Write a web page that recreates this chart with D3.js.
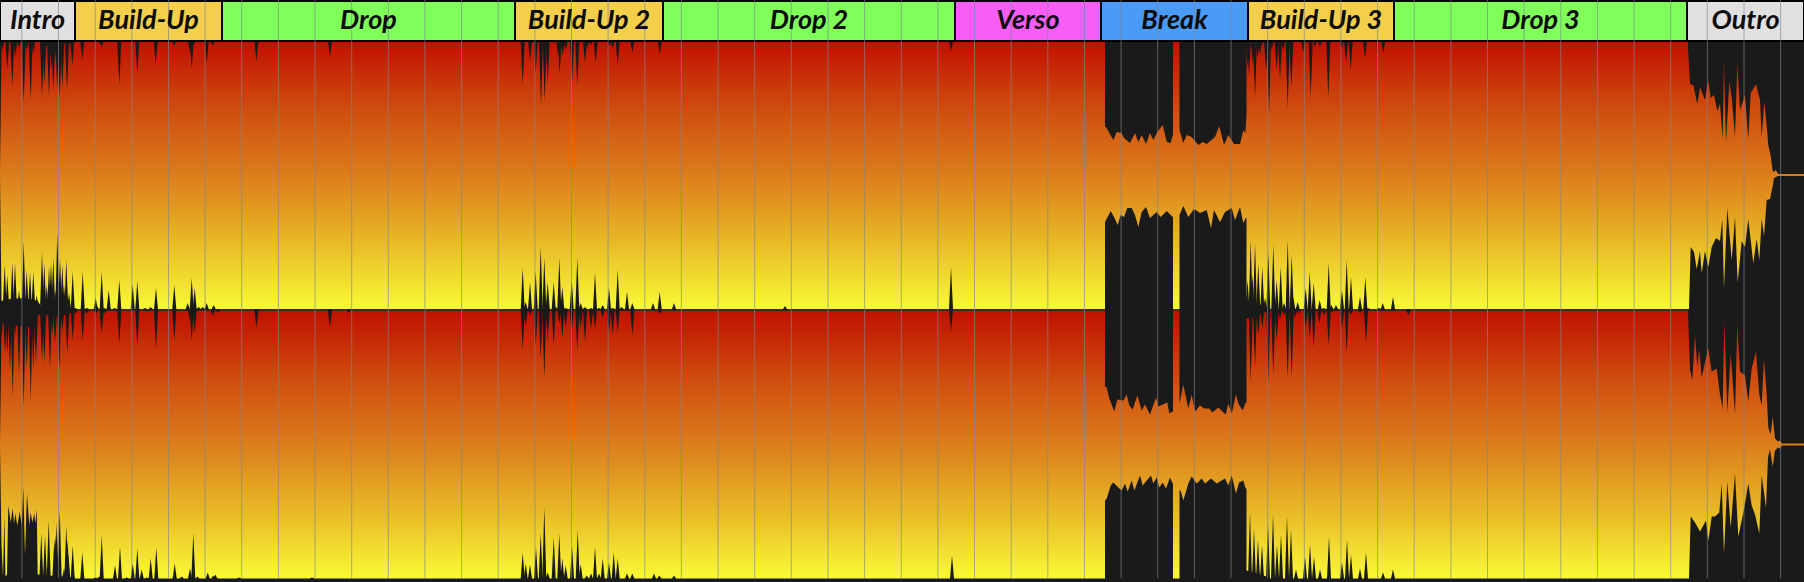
<!DOCTYPE html>
<meta charset="utf-8">
<style>

html, body {
  margin: 0;
  background: #1a1a1a;
}

svg {
  display: block;
}

.section-label {
  font-family: Lato, sans-serif;
  font-size: 27px;
  font-style: italic;
  font-weight: 700;
  fill: #0d0d0d;
  text-anchor: middle;
}

</style>
<body>
<script src="https://d3js.org/d3.v7.min.js"></script>
<script>

// x values are waveform columns, peak levels run from 0 (silence) to 134 (full scale)
var sectionNames = ["Intro", "Build-Up", "Drop", "Build-Up 2", "Drop 2", "Verso", "Break", "Build-Up 3", "Drop 3", "Outro"];
var sectionKinds = ["edge", "build", "drop", "build", "drop", "verse", "break", "build", "drop", "edge"];
var sectionEdges = [0, 75, 222, 515, 663, 955, 1101, 1248, 1394, 1687, 1804];
var barColumns = [21.4, 58, 94.7, 131.3, 168, 204.6, 241.2, 277.9, 314.5, 351.2, 387.8, 424.4, 461.1, 497.7, 534.4, 571, 607.6, 644.3, 680.9, 717.6, 754.2, 790.8, 827.5, 864.1, 900.8, 937.4, 974, 1010.7, 1047.3, 1084, 1120.6, 1157.2, 1193.9, 1230.5, 1267.2, 1303.8, 1340.4, 1377.1, 1413.7, 1450.4, 1487, 1523.6, 1560.3, 1596.9, 1633.6, 1670.2, 1706.8, 1743.5, 1780.1];

var ch1TopSpikes = [[2.3,125],[7.3,106],[12.3,89],[15.3,119],[19,127],[23.7,72],[26.7,125],[30.7,75],[33.3,122],[42,77],[44.3,90],[46,128],[49,79],[51.7,105],[53.3,84],[55,117],[57.3,86],[59.7,77],[62.3,87],[64,130],[67,85],[69.3,130],[72.3,109],[75,133],[82.3,115],[86.7,133],[100,131],[101.7,128],[119.3,90],[137.3,102],[146.7,133],[155.7,110],[174.3,129],[190,122],[191.7,107],[193.7,130],[200,133],[206.7,112],[212.7,129],[256.4,114],[330,118],
  [522.7,90],[530,115],[535.7,102],[541,69],[544.7,74],[547.7,92],[553.7,132],[558.3,119],[559.7,102],[562.7,119],[565.7,125],[572,92],[577.3,89],[585,112],[587.3,127],[591,130],[595.7,112],[609.3,129],[612.7,127],[617.7,109],[621.7,133],[626.7,133],[632.3,123],[659.7,121],[951,124],
  [1247.7,108],[1249,100],[1251.7,127],[1253,110],[1255,78],[1257.7,117],[1260,120],[1262,130],[1266,105],[1269,62],[1271.7,125],[1276.7,105],[1280,95],[1283.3,125],[1287.7,67],[1291.3,87],[1303.3,123],[1310.7,78],[1315,128],[1320,128],[1328.3,77],[1341.7,127],[1346,112],[1350.7,105],[1365,117],[1383.3,122],[1390,133]];
var ch1TopBody = [[0,1],[1.5,130],null,
  [1105,48],[1106,48],[1109.3,42],[1113.3,35],[1116.7,43],[1121.7,42],[1124,37],[1130,32],[1135,42],[1138.3,33],[1141.7,40],[1146,31],[1150,42],[1153.3,35],[1157.3,43],[1162.7,50],[1166.7,33],[1170.7,32],[1172.7,40],[1173,40],null,
  [1179.5,45],[1183.3,32],[1186.7,40],[1191.7,38],[1198.3,30],[1202.7,33],[1206.7,31],[1215,38],[1219.3,49],[1224,30],[1228.3,40],[1234,31],[1240,31],[1243.3,45],[1245.3,42],[1246.5,60],null,
  [1688,127],[1690,91],[1693.3,90],[1697.3,71],[1700,88],[1705,75],[1708.3,95],[1710.7,77],[1714,80],[1717.3,64],[1720,71],[1722.7,36],[1724,114],[1726,32],[1729.3,93],[1732,75],[1735,38],[1737.3,112],[1740,65],[1745,80],[1748.3,36],[1750.7,82],[1756,91],[1760,75],[1761.7,38],[1764.3,73],[1766.7,49],[1768.3,30],[1770.7,19],[1772.7,4],[1774,3],[1775.5,5],[1777,3],[1778.5,1],[1804,1]];

var ch1BottomSpikes = [[1.7,125],[4.7,90],[7.3,100],[12.3,88],[15,88],[19,115],[23.7,67],[26.7,95],[30,97],[33.3,97],[36.7,120],[39.3,128],[42,77],[44.3,88],[46.7,110],[49,92],[51,88],[53.3,83],[55.3,115],[57.3,58],[60,83],[62.3,90],[64,110],[66.3,85],[69,118],[72.7,97],[75.3,133],[82.7,97],[87,133],[95.7,123],[97,131],[101.7,97],[104.3,133],[108.7,115],[114.7,133],[119.3,105],[132.7,110],[137.3,106],[145,133],[150.7,132],[156,113],[174.3,110],[187.7,128],[191.7,103],[194.7,113],[198.7,132],[202.7,132],[206.7,128],[213.7,130],
  [522.7,93],[525.7,127],[530,107],[535.7,97],[540.7,72],[544.3,83],[547.7,107],[553.7,107],[555.7,132],[559.3,83],[562.3,112],[565.7,133],[571.7,105],[577.3,83],[580.7,128],[585,132],[591,133],[595,98],[599,133],[602.7,130],[609,113],[612.7,133],[617.7,95],[621.7,132],[627,117],[632.3,128],[653,128],[659.7,117],[674,128],[785,131],[951,92],
  [1247.5,105],[1250.7,65],[1252.5,100],[1255,68],[1258.3,88],[1262.3,92],[1265,123],[1268.3,78],[1273.3,70],[1276.7,105],[1280.7,92],[1284,128],[1287.7,65],[1291.7,80],[1293.3,122],[1297.7,127],[1305.7,113],[1309.7,97],[1313.7,108],[1319.7,125],[1323.7,133],[1328.7,88],[1331.3,130],[1336,130],[1342,115],[1346.7,85],[1351,102],[1360,122],[1365.3,102],[1368,133],[1379,133],[1382.7,128],[1393,122]];
var ch1BottomBody = [[0,1],[1.5,126],[10,124],[25,123],[38,126],[40,131],[60,130],[75,134],null,
  [1105,47],[1110.7,36],[1114,42],[1117.7,50],[1120.7,40],[1124,42],[1127.3,33],[1131.7,33],[1135,40],[1138.3,52],[1141.7,37],[1146,32],[1150,43],[1156.7,37],[1160.7,42],[1166.7,36],[1172.7,42],[1173,42],null,
  [1179.5,40],[1183.3,31],[1188.3,42],[1194,34],[1200,38],[1206.7,35],[1211,53],[1214,35],[1220,47],[1225,37],[1231.7,33],[1235,45],[1240,32],[1243.3,48],[1245.7,43],[1246.5,43],[1246.5,126],[1258,128],[1262,131],[1270,133],null,
  [1689,133],[1690.7,72],[1694,77],[1696.7,94],[1700,76],[1701.7,98],[1705,76],[1708.3,92],[1711.7,72],[1716,63],[1720,66],[1722.3,44],[1724,113],[1727.3,33],[1731.7,85],[1735,42],[1737.7,107],[1741.7,66],[1745,72],[1748.3,44],[1753.3,88],[1756.7,64],[1759.3,85],[1761.7,44],[1764,61],[1766.7,25],[1770,24],[1772.7,11],[1774,3],[1778,1],[1804,1]];

var ch2TopSpikes = [[1.7,107],[5,90],[7.3,90],[10,74],[12.7,47],[15,107],[19,71],[23.7,38],[26.7,77],[30.7,42],[33.3,74],[36,81],[39.3,131],[42,84],[44.3,81],[46.7,131],[50,76],[52.3,111],[55,101],[59.3,76],[62.3,114],[64.5,131],[67.3,91],[72.7,104],[75.3,131],[82.7,104],[86.7,131],[96,131],[101.7,111],[104.3,131],[119.3,101],[137.3,99],[156,96],[174.3,104],[190,124],[191.7,104],[194.7,111],[212.7,129],[218,132],[256.4,117],[330,117],[349,132],
  [522.7,94],[525.7,119],[530,129],[535.7,99],[540.7,87],[544.3,66],[547.7,104],[553.7,99],[559.3,121],[562.3,106],[565.7,117],[571.7,112],[577.3,94],[580.7,117],[585,102],[591,116],[595,116],[602.7,127],[609,112],[612.7,109],[617.7,112],[632.3,109],[659.7,131],[951,113],
  [1250.7,62],[1255,77],[1258.3,109],[1262.3,117],[1268.3,62],[1273.3,69],[1276.7,104],[1280,125],[1284,129],[1287.7,66],[1291.7,67],[1295,127],[1298.3,131],[1305.7,117],[1309.7,106],[1313.7,97],[1319.3,121],[1324,129],[1328.7,99],[1331.3,132],[1342,116],[1346.7,92],[1351,130],[1360,131],[1366,101],[1408.3,130]];
var ch2TopBody = [[0,1],[1.5,122],[15,119],[35,117],[38,130],[60,128],[75,133],null,
  [1105,58],[1106.7,57],[1109.3,46],[1114.3,33],[1117.3,45],[1123.3,44],[1126.7,50],[1129.3,39],[1132.7,35],[1137.3,49],[1141.7,34],[1145,40],[1150,30],[1156,47],[1158.3,38],[1167.3,42],[1169.3,31],[1172.7,33],[1173,33],null,
  [1179.5,41],[1183.3,60],[1188.3,36],[1191.7,50],[1195,33],[1200,39],[1204,36],[1209.3,36],[1212.3,32],[1218.3,37],[1225.7,30],[1228.3,41],[1231.7,31],[1236,50],[1238.3,41],[1242.7,34],[1245.7,42],[1246.5,42],[1246.5,126],[1256,128],[1264,132],[1270,133],null,
  [1688,133],[1690,75],[1692.3,64],[1695,110],[1697.3,78],[1699.3,95],[1701.7,67],[1708.3,97],[1711.7,73],[1716.7,76],[1720,50],[1722.7,36],[1724.3,125],[1727.3,32],[1730.7,91],[1735,30],[1737.3,121],[1740,73],[1745,69],[1748.3,43],[1751.7,76],[1756,93],[1759.3,50],[1761.7,39],[1764,86],[1766.7,50],[1768.3,17],[1770.7,10],[1772.7,28],[1775,6],[1778,3],[1780,4],[1782,1],[1804,1]];

var ch2BottomSpikes = [[41.3,89],[45,91],[48.7,76],[54.3,94],[55.5,90],[56.7,78],[59.7,66],[64,124],[66.3,81],[67.5,95],[68.3,109],[72.7,101],[82.3,108],[95.7,133],[99.3,132],[101.7,91],[115,121],[120,103],[126.7,133],[132.7,119],[137.3,104],[141.7,125],[146.7,133],[150.7,114],[156.3,103],[174.7,119],[181.7,132],[190,124],[193.3,89],[197.3,132],[207.7,128],[213.3,131],[215.3,130],[239,133],[312,133],
  [522.7,108],[525.7,119],[530,120],[536,103],[540.7,89],[544.3,63],[547.7,128],[553.7,93],[559.3,89],[562.3,114],[565.7,121],[572,101],[577.7,86],[580.7,120],[586.7,131],[591,129],[595,103],[599,129],[602.7,114],[609,118],[613.7,108],[617.7,114],[627,129],[632.3,129],[654,129],[659.3,131],[674,131],[952,111],
  [1250,68],[1254,85],[1258,95],[1262,100],[1268,80],[1273,70],[1277,100],[1281,90],[1287,72],[1291,85],[1296,125],[1305,112],[1310,100],[1314,112],[1320,125],[1329,92],[1342,118],[1347,95],[1351,110],[1360,124],[1366,108],[1383,128],[1393,125]];
var ch2BottomBody = [[0,1],[1.5,100],[3,132],[4.3,71],[5.5,132],[7,130],[8.3,61],[10.7,78],[12.7,64],[14,79],[15.3,69],[17.3,81],[19.7,67],[21.7,81],[23.3,43],[25,110],[27,49],[29.3,81],[30.7,68],[32.3,78],[34.3,69],[35.3,79],[36.7,65],[37.7,130],[75,133],null,
  [1105,56],[1106.7,54],[1110.7,41],[1113.3,38],[1118.3,43],[1121.7,46],[1125,39],[1127.7,47],[1131.7,36],[1134.3,46],[1140,31],[1142.7,41],[1146.7,36],[1151,31],[1153.3,39],[1156.7,33],[1159.3,43],[1162.7,38],[1166,44],[1170,33],[1172.7,39],[1173,39],null,
  [1179.5,46],[1180.7,46],[1183.3,56],[1188.3,39],[1191.7,32],[1196.7,39],[1201.7,34],[1205,39],[1211,34],[1216.7,39],[1225,34],[1228.3,41],[1231.7,31],[1236,49],[1239,38],[1243.3,36],[1245.7,44],[1246.5,44],[1246.5,126],[1260,130],[1270,133],null,
  [1689,133],[1690.7,72],[1695,78],[1700,87],[1706,76],[1708.3,96],[1711.7,72],[1715,72],[1719.3,68],[1721.7,39],[1724,109],[1727.3,37],[1730.7,83],[1735,29],[1738.3,92],[1744,65],[1748.3,39],[1751.7,61],[1755,70],[1759.3,89],[1761.7,31],[1766,63],[1768,13],[1770,5],[1772.7,22],[1775,6],[1778,3],[1780,4],[1782,1],[1804,1]];

var width = 1804,
    height = 582,
    headerHeight = 41,
    fullScale = 134,
    spikeWidth = 2,
    black = "#1a1a1a";

var sectionColor = d3.scaleOrdinal()
    .domain(["edge", "build", "drop", "verse", "break"])
    .range(["#e0e0e0", "#f4cf4c", "#80ff5a", "#f55df5", "#4a9bf5"]);

var gradientColor = d3.scaleLinear()
    .domain([0, .25, .5, .75, 1])
    .range(["#c01000", "#cf4c0f", "#dc7d1b", "#e8b927", "#f9f935"]);

var channels = [
  {id: "ch1", top: 41, middle: 175, bottom: 309, topSpikes: ch1TopSpikes, topBody: ch1TopBody, bottomSpikes: ch1BottomSpikes, bottomBody: ch1BottomBody},
  {id: "ch2", top: 310.5, middle: 444.5, bottom: 578.5, topSpikes: ch2TopSpikes, topBody: ch2TopBody, bottomSpikes: ch2BottomSpikes, bottomBody: ch2BottomBody}
];

var x = d3.scaleLinear()
    .domain([0, width])
    .range([0, width]);

var svg = d3.select("body").append("svg")
    .attr("width", width)
    .attr("height", height);

svg.append("rect")
    .attr("width", width)
    .attr("height", height)
    .attr("fill", black);

var defs = svg.append("defs");

channels.forEach(function(channel) {
  var gradient = defs.append("linearGradient")
      .attr("id", channel.id + "-fill")
      .attr("gradientUnits", "userSpaceOnUse")
      .attr("x1", 0).attr("x2", 0)
      .attr("y1", channel.top).attr("y2", channel.bottom);

  gradient.selectAll("stop")
      .data(gradientColor.domain())
    .enter().append("stop")
      .attr("offset", function(d) { return d; })
      .attr("stop-color", gradientColor);

  svg.append("rect")
      .attr("x", x(0))
      .attr("y", channel.top)
      .attr("width", x(width))
      .attr("height", channel.bottom - channel.top)
      .attr("fill", "url(#" + channel.id + "-fill)");
});

// the dark seam between the two channels, under the black of the waveform
svg.append("line")
    .attr("x1", x(0))
    .attr("x2", x(width))
    .attr("y1", 310)
    .attr("y2", 310)
    .attr("stroke", "#3c2c10")
    .attr("stroke-width", 2);

channels.forEach(function(channel) {
  drawEdge(channel.top, channel.middle, channel.topSpikes, channel.topBody);
  drawEdge(channel.bottom, channel.middle, channel.bottomSpikes, channel.bottomBody);
});

// the black part of a channel edge is everything beyond the peak level
function drawEdge(edge, middle, spikes, body) {
  var y = d3.scaleLinear()
      .domain([0, fullScale])
      .range([middle, edge]);

  var area = d3.area()
      .defined(function(d) { return d; })
      .x(function(d) { return x(d[0]); })
      .y0(edge > middle ? edge + 1.5 : edge - 1.5)
      .y1(function(d) { return y(d[1]); });

  svg.append("path")
      .attr("d", area(body))
      .attr("fill", black);

  svg.append("g").selectAll("path")
      .data(spikes)
    .enter().append("path")
      .attr("fill", black)
      .attr("d", function(d) {
        return area([[d[0] - spikeWidth, fullScale], d, [d[0] + spikeWidth, fullScale]]);
      });
}

var sections = svg.append("g").selectAll("g")
    .data(sectionNames)
  .enter().append("g");

sections.append("rect")
    .attr("x", function(d, i) { return x(sectionEdges[i]); })
    .attr("y", 1)
    .attr("width", function(d, i) { return x(sectionEdges[i + 1]) - x(sectionEdges[i]); })
    .attr("height", headerHeight - 1)
    .attr("fill", function(d, i) { return sectionColor(sectionKinds[i]); })
    .attr("stroke", "#000")
    .attr("stroke-width", 2);

var barAxis = d3.axisBottom(x)
    .tickValues(barColumns)
    .tickSize(578)
    .tickFormat("");

svg.append("g")
    .call(barAxis)
    .call(function(g) { g.select(".domain").remove(); })
  .selectAll("line")
    .attr("stroke", "#7d8696")
    .attr("stroke-opacity", .65);

svg.append("g").selectAll("text")
    .data(sectionNames)
  .enter().append("text")
    .attr("class", "section-label")
    .attr("x", function(d, i) { return x((sectionEdges[i] + sectionEdges[i + 1]) / 2); })
    .attr("y", 29)
    .text(function(d) { return d; });

</script>
